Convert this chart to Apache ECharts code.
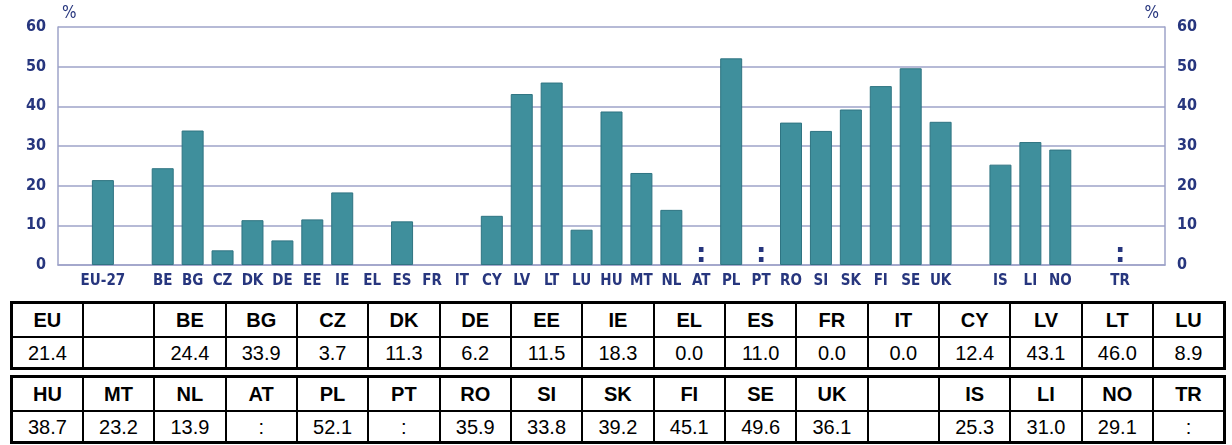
<!DOCTYPE html>
<html>
<head>
<meta charset="utf-8">
<script src="https://cdn.jsdelivr.net/npm/echarts@6/dist/echarts.min.js"></script>
<style>
  html, body { margin: 0; padding: 0; background: #fff; }
  #chart { position: absolute; left: 0; top: 0; width: 1232px; height: 290px; }
  table.dt { position: absolute; left: 10px; width: 1216px; border-collapse: collapse;
    table-layout: fixed; border: 3px solid #000; font-family: 'Liberation Sans', Arial, sans-serif; color: #000; }
  table.dt td { border: 2px solid #000; text-align: center; padding: 0; line-height: 1; }
  table.dt tr.h td { font-weight: bold; font-size: 20px; height: 32px; }
  table.dt tr.v td { font-size: 20px; height: 29px; }
</style>
</head>
<body>
<div id="chart"></div>
<table class="dt" id="t1" style="top:301px"></table>
<table class="dt" id="t2" style="top:375px"></table>
<script>
// categories on the axis, '' = empty slot
var categories = ['', 'EU-27', '', 'BE', 'BG', 'CZ', 'DK', 'DE', 'EE', 'IE', 'EL', 'ES', 'FR', 'IT', 'CY',
    'LV', 'LT', 'LU', 'HU', 'MT', 'NL', 'AT', 'PL', 'PT', 'RO', 'SI', 'SK', 'FI', 'SE', 'UK', '',
    'IS', 'LI', 'NO', '', 'TR', ''];
// '-' = empty slot, ':' = not available
var values = ['-', 21.4, '-', 24.4, 33.9, 3.7, 11.3, 6.2, 11.5, 18.3, 0.0, 11.0, 0.0, 0.0, 12.4,
    43.1, 46.0, 8.9, 38.7, 23.2, 13.9, ':', 52.1, ':', 35.9, 33.8, 39.2, 45.1, 49.6, 36.1, '-',
    25.3, 31.0, 29.1, '-', ':', '-'];
var yTicks = [0, 10, 20, 30, 40, 50, 60];
// table layout (codes from categories)
var tableRow1 = ['EU-27', '', 'BE', 'BG', 'CZ', 'DK', 'DE', 'EE', 'IE', 'EL', 'ES', 'FR', 'IT', 'CY', 'LV', 'LT', 'LU'];
var tableRow2 = ['HU', 'MT', 'NL', 'AT', 'PL', 'PT', 'RO', 'SI', 'SK', 'FI', 'SE', 'UK', '', 'IS', 'LI', 'NO', 'TR'];
var tableNames = { 'EU-27': 'EU' };

var navy = '#27367e', grid = '#9ea3c9', teal = '#3f8f9c';
var font = "'DejaVu Sans Condensed', 'Liberation Sans Narrow', sans-serif";

var barData = values.map(function (v) {
    if (v === ':') {
        return { value: 0, itemStyle: { borderWidth: 0 },
            label: { show: true, formatter: ':', position: 'top', distance: -3,
            color: navy, fontSize: 26, fontWeight: 'bold', fontFamily: 'DejaVu Sans' } };
    }
    if (v === 0) return { value: 0, itemStyle: { borderWidth: 0 } };
    return v;
});

var yBase = {
    type: 'value', min: yTicks[0], max: yTicks[yTicks.length - 1], interval: 10,
    axisLine: { show: true, lineStyle: { color: grid, width: 1.5 } },
    axisTick: { show: false },
    nameTextStyle: { color: navy, fontSize: 17, fontFamily: font },
    axisLabel: { color: navy, fontSize: 16, fontFamily: font, fontWeight: 'bold', margin: 12 }
};

var chart = echarts.init(document.getElementById('chart'));
chart.setOption({
    animation: false,
    grid: { left: 58, right: 67, top: 27, bottom: 25 },
    xAxis: {
        type: 'category', data: categories,
        axisLine: { lineStyle: { color: grid, width: 1.5 } },
        axisTick: { show: false },
        axisLabel: { color: navy, fontSize: 15, fontFamily: font, fontWeight: 'bold', margin: 9, interval: 0 }
    },
    yAxis: [
        Object.assign({}, yBase, {
            position: 'left', name: '%', nameLocation: 'end', nameGap: 5,
            nameTextStyle: Object.assign({}, yBase.nameTextStyle, { align: 'left', padding: [0, 0, 0, 4] }),
            splitLine: { lineStyle: { color: grid, width: 1.5 } }
        }),
        Object.assign({}, yBase, {
            position: 'right', name: '%', nameLocation: 'end', nameGap: 5,
            nameTextStyle: Object.assign({}, yBase.nameTextStyle, { align: 'right', padding: [0, 6, 0, 0] }),
            splitLine: { show: false }
        })
    ],
    series: [{
        type: 'bar', data: barData, barWidth: 22,
        itemStyle: { color: teal, borderColor: '#2f7482', borderWidth: 1 }
    }]
});

// data table from the same arrays
function buildTable(id, codes) {
    var h = '<tr class="h">', v = '<tr class="v">';
    codes.forEach(function (c) {
        var val = '';
        if (c !== '') {
            var x = values[categories.indexOf(c)];
            val = x === ':' ? ':' : x.toFixed(1);
        }
        h += '<td>' + (tableNames[c] || c) + '</td>';
        v += '<td>' + val + '</td>';
    });
    document.getElementById(id).innerHTML = h + '</tr>' + v + '</tr>';
}
buildTable('t1', tableRow1);
buildTable('t2', tableRow2);
</script>
</body>
</html>
